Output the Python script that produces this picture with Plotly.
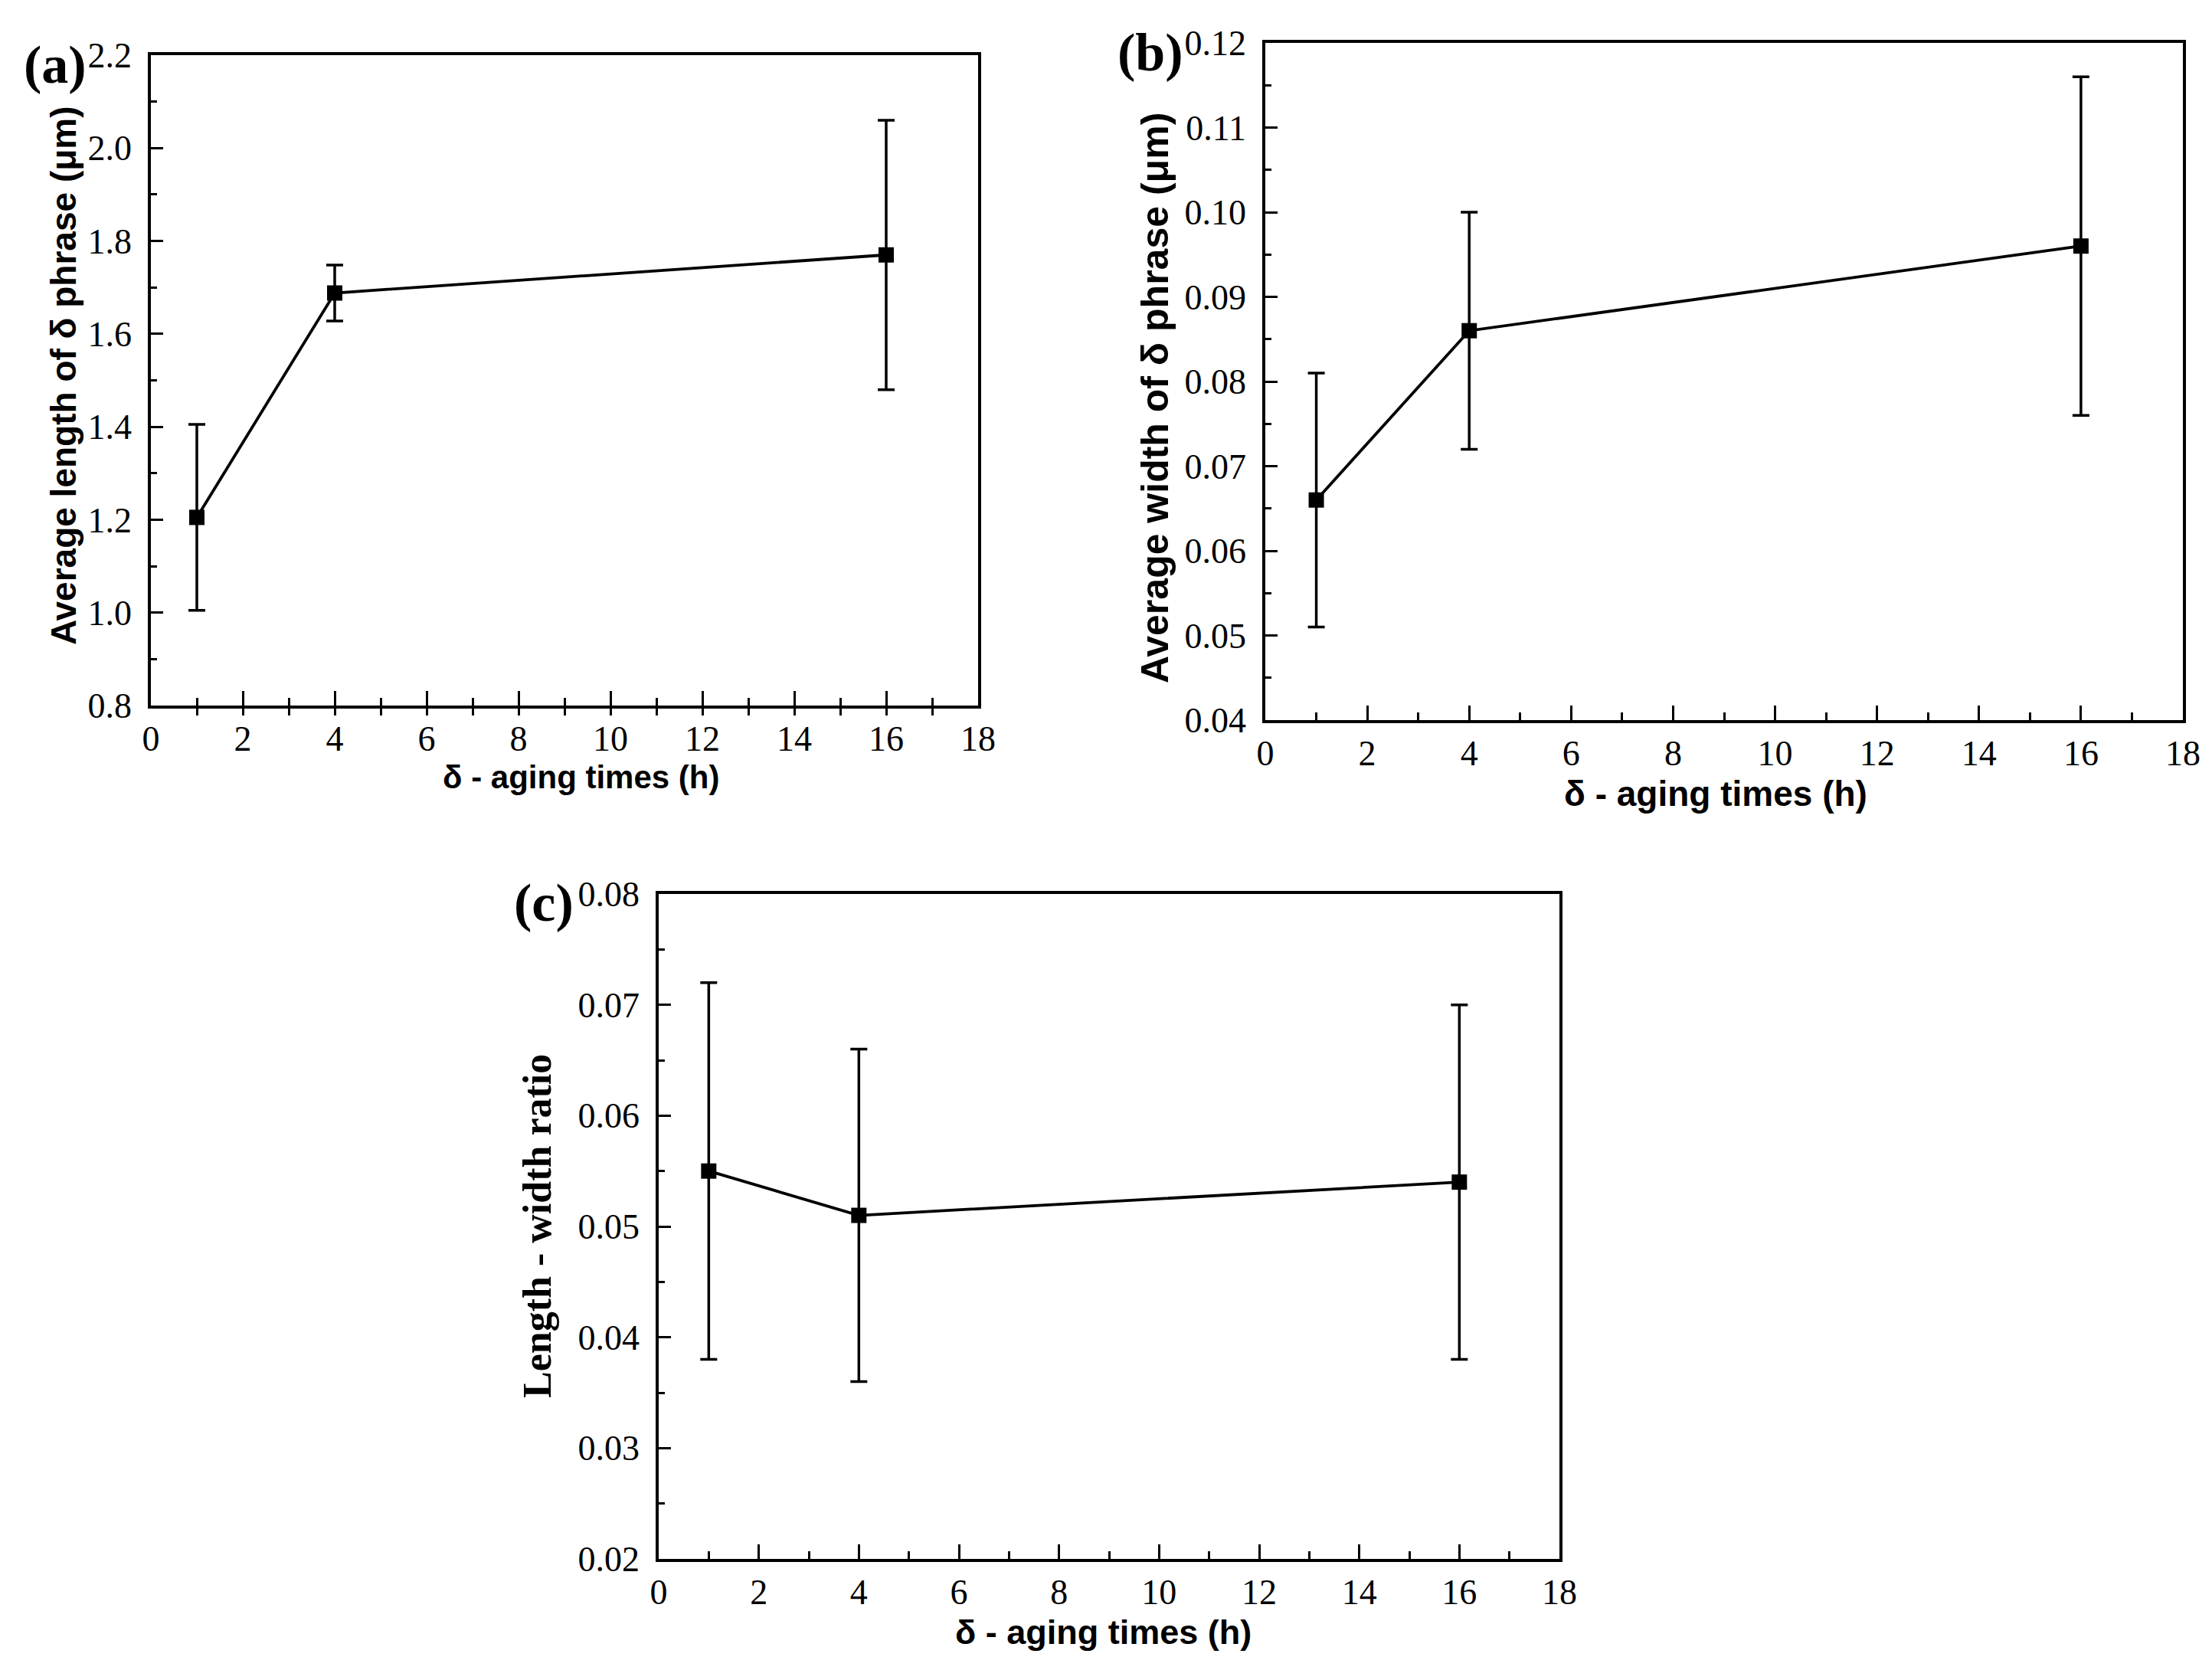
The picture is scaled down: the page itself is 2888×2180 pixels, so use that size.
import plotly.graph_objects as go

W, H = 2888, 2180

# ---- data ----
aging_time = [1, 4, 16]
avg_length = [1.205, 1.688, 1.770]
avg_length_err = [0.200, 0.060, 0.290]
avg_width = [0.066, 0.086, 0.096]
avg_width_err = [0.015, 0.014, 0.020]
lw_ratio = [0.055, 0.051, 0.054]
lw_ratio_err = [0.017, 0.015, 0.016]

x_title = "δ - aging times (h)"
y_titles = ["Average length of δ phrase (μm)", "Average width of δ phrase (μm)", "Length - width ratio"]
panel_labels = ["(a)", "(b)", "(c)"]

SERIF = "Liberation Serif"
SANS = "Liberation Sans"

def px_x(p):
    return p / W

def px_y(p):
    return 1 - p / H

fig = go.Figure()

series = [(avg_length, avg_length_err, "x", "y"),
          (avg_width, avg_width_err, "x2", "y2"),
          (lw_ratio, lw_ratio_err, "x3", "y3")]
for yv, ev, xa, ya in series:
    fig.add_trace(go.Scatter(
        x=aging_time, y=yv, xaxis=xa, yaxis=ya, mode="lines+markers",
        line=dict(color="black", width=3.8),
        marker=dict(symbol="square", size=20, color="black"),
        error_y=dict(type="data", array=ev, visible=True, color="black", thickness=3.5, width=11),
        showlegend=False, cliponaxis=False))

# dummy trace for the overlay axis (crossing minor ticks of panel a)
fig.add_trace(go.Scatter(x=[], y=[], xaxis="x4", yaxis="y", showlegend=False))

boxes = {  # left, right, top, bottom in pixels
    1: (189, 1269, 64, 913),
    2: (1644, 2842, 48, 932),
    3: (852, 2028, 1159, 2027),
}
yranges = {1: [0.8, 2.2], 2: [0.04, 0.12], 3: [0.02, 0.08]}
ydticks = {1: 0.2, 2: 0.01, 3: 0.01}
yminor = {1: 0.1, 2: 0.005, 3: 0.005}
yfmt = {1: ".1f", 2: ".2f", 3: ".2f"}

tickfont = dict(family=SERIF, size=46, color="black")
layout = {}
for i in (1, 2, 3):
    l, r, t, b = boxes[i]
    xs = "" if i == 1 else str(i)
    layout["xaxis" + xs] = dict(
        domain=[px_x(l), px_x(r)], anchor="y" + xs, range=[0, 18], automargin=False,
        tickmode="linear", tick0=0, dtick=2, ticks="inside", ticklen=19, tickwidth=3,
        minor=dict(ticks="outside" if i == 1 else "inside", ticklen=9 if i == 1 else 10,
                   tickwidth=3, dtick=1, tick0=0, tickcolor="black", showgrid=False),
        showline=True, linewidth=3.5, linecolor="black", mirror=True,
        showgrid=False, zeroline=False, tickcolor="black",
        tickfont=tickfont, ticklabelstandoff=0)
    layout["yaxis" + xs] = dict(
        domain=[px_y(b), px_y(t)], anchor="x" + xs, range=yranges[i], automargin=False,
        tickmode="linear", tick0=yranges[i][0], dtick=ydticks[i], tickformat=yfmt[i],
        ticks="inside", ticklen=16, tickwidth=3,
        minor=dict(ticks="inside", ticklen=8, tickwidth=3, dtick=yminor[i],
                   tick0=yranges[i][0], tickcolor="black", showgrid=False),
        showline=True, linewidth=3.5, linecolor="black", mirror=True,
        showgrid=False, zeroline=False, tickcolor="black",
        tickfont=tickfont, ticklabelstandoff=12)

# overlay axis giving the upward half of panel (a)'s crossing minor ticks
layout["xaxis4"] = dict(
    overlaying="x", anchor="y", range=[0, 18], side="bottom", automargin=False,
    tickmode="linear", tick0=1, dtick=2, ticks="inside", ticklen=10, tickwidth=3,
    tickcolor="black", showticklabels=False, showline=False, showgrid=False, zeroline=False)

annotations = []
# panel labels
for lab, (cx, cy) in zip(panel_labels, [(64, 76), (1494, 60), (702, 1170)]):
    annotations.append(dict(text=lab, x=px_x(cx), y=px_y(cy), xref="paper", yref="paper",
                            xanchor="center", yanchor="middle", showarrow=False,
                            font=dict(family=SERIF, size=70, color="black", weight="bold")))
# x titles
for cx, cy, sz in [(750, 1006, 42), (2232, 1028, 46), (1432, 2122, 45)]:
    annotations.append(dict(text=x_title, x=px_x(cx), y=px_y(cy), xref="paper", yref="paper",
                            xanchor="center", yanchor="middle", showarrow=False,
                            font=dict(family=SANS, size=sz, color="black", weight="bold")))
# y titles
yt_pos = [(75, 482, SANS, 46), (1500, 512, SANS, 50), (693, 1593, SERIF, 52)]
for txt, (cx, cy, fam, sz) in zip(y_titles, yt_pos):
    annotations.append(dict(text=txt, x=px_x(cx), y=px_y(cy), xref="paper", yref="paper",
                            xanchor="center", yanchor="middle", showarrow=False, textangle=-90,
                            font=dict(family=fam, size=sz, color="black", weight="bold")))

fig.update_layout(
    width=W, height=H, margin=dict(l=0, r=0, t=0, b=0),
    paper_bgcolor="white", plot_bgcolor="white", template="none",
    annotations=annotations, **layout)

fig.write_html("out.html")
